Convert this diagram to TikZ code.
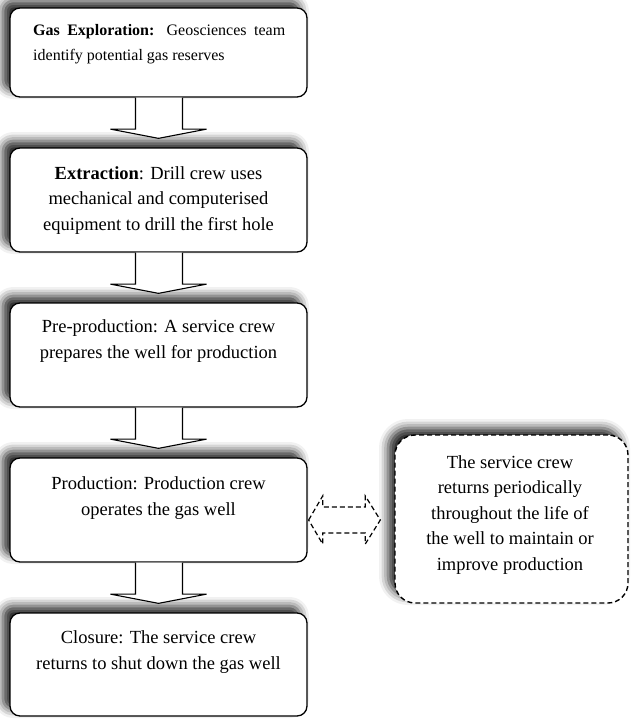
\documentclass[tikz,border=0pt]{standalone}
\usepackage{fontspec}
\setmainfont{Liberation Serif}
\usetikzlibrary{calc,shadows.blur}
\tikzset{
  stagebox/.style={draw, line width=1.3pt, rounded corners=10pt, fill=white,
    minimum width=297pt, inner sep=0pt,
    blur shadow={shadow xshift=-7pt, shadow yshift=7pt, shadow blur radius=9pt, shadow opacity=85}},
  sidebox/.style={draw, line width=1.4pt, dash pattern=on 5pt off 3pt, rounded corners=20pt, fill=white,
    minimum width=233pt, minimum height=168pt, inner sep=0pt,
    blur shadow={shadow xshift=-7pt, shadow yshift=7pt, shadow blur radius=9pt, shadow opacity=85}},
  boxtext/.style={anchor=base, inner sep=0pt, align=center, font=\fontsize{18.5}{25.5}\selectfont},
  blockarrow/.style={draw, line width=1.1pt, fill=white, line join=miter},
  dasharrow/.style={draw, line width=1.2pt, dash pattern=on 5pt off 3pt, fill=white}
}
\begin{document}
\begin{tikzpicture}[x=1pt,y=-1pt]
\useasboundingbox (0,0) rectangle (632,720);
% boxes
\node[stagebox, minimum height=89pt] (b1) at (158.5,52.5) {};
\node[stagebox, minimum height=104pt] (b2) at (158.5,200) {};
\node[stagebox, minimum height=104pt] (b3) at (158.5,355) {};
\node[stagebox, minimum height=104pt] (b4) at (158.5,510) {};
\node[stagebox, minimum height=103pt] (b5) at (158.5,664.5) {};
\node[sidebox] (side) at (511.5,519) {};
% texts (anchor base = last line baseline)
\node[anchor=base west, inner sep=0pt, text width=252pt, align=justify, font=\fontsize{16}{25}\selectfont] (t1) at (33,35)
  {\textbf{Gas Exploration:} Geosciences team\linebreak identify potential gas reserves};
\node[boxtext] (t2) at (158.5,230) {\textbf{Extraction}: Drill crew uses\\mechanical and computerised\\equipment to drill the first hole};
\node[boxtext] (t3) at (158.5,358) {Pre-production: A service crew\\prepares the well for production};
\node[boxtext] (t4) at (158.5,515) {Production: Production crew\\operates the gas well};
\node[boxtext] (t5) at (158.5,669) {Closure: The service crew\\returns to shut down the gas well};
\node[boxtext] (t6) at (510,570) {The service crew\\returns periodically\\throughout the life of\\the well to maintain or\\improve production};
% block arrows
\foreach \a/\b in {b1/b2,b2/b3,b3/b4,b4/b5}{
  \draw[blockarrow] ($(\a.south)+(-23,0)$) -- ($(\a.south)+(-23,31.5)$) -- ($(\a.south)+(-48,31.5)$)
    -- ($(\b.north)+(0,-9)$) -- ($(\a.south)+(48,31.5)$) -- ($(\a.south)+(24,31.5)$) -- ($(\a.south)+(24,0)$);
}
% dashed double arrow
\coordinate (dl) at ($(b4.east)+(1,10)$);
\coordinate (dr) at ($(side.west)+(-14,1)$);
\draw[dasharrow] (dl) -- ($(dl)+(14,-24)$) -- ($(dl)+(14,-13)$) -- ($(dr)+(-15,-13)$) -- ($(dr)+(-15,-24)$)
  -- (dr) -- ($(dr)+(-15,24)$) -- ($(dr)+(-15,13)$) -- ($(dl)+(14,13)$) -- ($(dl)+(14,24)$) -- cycle;
\end{tikzpicture}
\end{document}
